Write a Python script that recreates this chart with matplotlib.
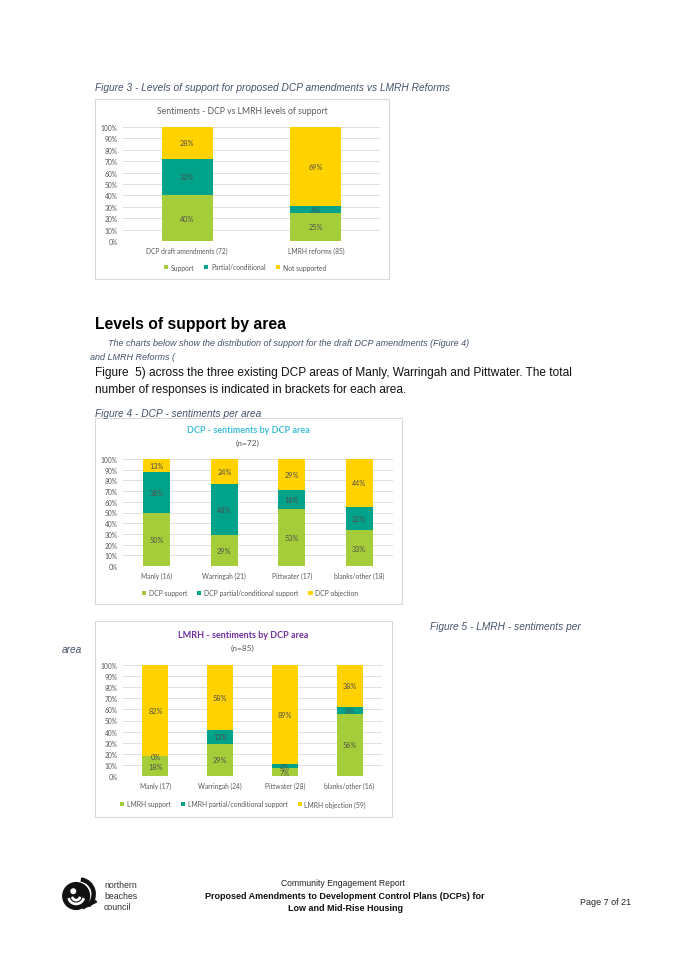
import matplotlib.pyplot as plt
from matplotlib.patches import Rectangle, Circle, Wedge
import numpy as np

W, H = 675, 954

GREEN = '#a5cd39'
TEAL = '#00a38a'
YELLOW = '#ffd200'
GRID = '#d9d9d9'
TXT = '#595959'
CAPTION = '#44546a'
CHART_FONT = 'Lato'
DOC_FONT = 'Liberation Sans'

# Figure 3 - overall levels of support (response counts)
overall_cats = ['DCP draft amendments (72)', 'LMRH reforms (85)']
overall_support = [29, 21]
overall_partial = [23, 5]
overall_against = [20, 59]
overall_legend = ['Support', 'Partial/conditional', 'Not supported']

# Figure 4 - DCP by area
dcp_cats = ['Manly (16)', 'Warringah (21)', 'Pittwater (17)', 'blanks/other (18)']
dcp_support = [8, 6, 9, 6]
dcp_partial = [6, 10, 3, 4]
dcp_against = [2, 5, 5, 8]
dcp_legend = ['DCP support', 'DCP partial/conditional support', 'DCP objection']

# Figure 5 - LMRH by area
lmrh_cats = ['Manly (17)', 'Warringah (24)', 'Pittwater (28)', 'blanks/other (16)']
lmrh_support = [3, 7, 2, 9]
lmrh_partial = [0, 3, 1, 1]
lmrh_against = [14, 14, 25, 6]
lmrh_legend = ['LMRH support', 'LMRH partial/conditional support', 'LMRH objection (59)']


fig = plt.figure(figsize=(W / 100, H / 100), dpi=100)


def fx(x):
    return x / W


def fy(y):
    return 1 - y / H


def axes_px(x0, y0, x1, y1):
    a = fig.add_axes([fx(x0), fy(y1), (x1 - x0) / W, (y1 - y0) / H])
    a.patch.set_alpha(0)
    a.set_zorder(2)
    return a


def box(x0, y0, x1, y1):
    fig.patches.append(Rectangle((fx(x0), fy(y1)), (x1 - x0) / W, (y1 - y0) / H,
                                 transform=fig.transFigure, facecolor='white',
                                 edgecolor=GRID, lw=0.8, zorder=-5))


def doc_text(x, y, s, size=8, **kw):
    kw.setdefault('family', DOC_FONT)
    kw.setdefault('va', 'center')
    fig.text(fx(x), fy(y), s, fontsize=size, **kw)


def stacked(ax, cats, series, labels, legend_y, legend_x):
    x = np.arange(len(cats))
    totals = np.sum(series, axis=0)
    bottom = np.zeros(len(cats))
    handles = []
    for s, c, lab in zip(series, [GREEN, TEAL, YELLOW], labels):
        p = np.array(s) / totals * 100
        h = ax.bar(x, p, 0.4, bottom=bottom, color=c, label=lab, zorder=2)
        handles.append(h)
        for xi, b, v in zip(x, bottom, p):
            ax.text(xi, b + v / 2, f'{int(v + 0.5)}%', ha='center', va='center',
                    fontsize=5.2, color='#505050', family=CHART_FONT, zorder=3)
        bottom += p
    ax.set_xlim(-0.5, len(cats) - 0.5)
    ax.set_ylim(0, 100)
    ax.set_yticks(range(0, 101, 10))
    ax.set_yticklabels([f'{v}%' for v in range(0, 101, 10)])
    ax.set_xticks(x)
    ax.set_xticklabels(cats)
    for sp in ax.spines.values():
        sp.set_visible(False)
    ax.grid(axis='y', color=GRID, lw=0.6, zorder=0)
    ax.set_axisbelow(True)
    ax.tick_params(length=0, labelsize=4.8, labelcolor=TXT, pad=4)
    for t in ax.get_xticklabels() + ax.get_yticklabels():
        t.set_family(CHART_FONT)
    fig.legend(handles=handles, loc='center', ncol=3, frameon=False,
               bbox_to_anchor=(fx(legend_x), fy(legend_y)),
               prop={'family': CHART_FONT, 'size': 4.9}, labelcolor=TXT,
               handlelength=0.6, handleheight=0.6, handletextpad=0.4,
               columnspacing=1.5)


# ---- Figure 3 ----
doc_text(95, 88, 'Figure 3 - Levels of support for proposed DCP amendments vs LMRH Reforms',
         size=7.3, style='italic', color=CAPTION)
box(95, 100, 389, 280)
fig.text(fx(242), fy(112), 'Sentiments - DCP vs LMRH levels of support', ha='center',
         va='center', fontsize=6.2, color=TXT, family=CHART_FONT)
ax1 = axes_px(123, 128, 380, 242)
stacked(ax1, overall_cats, [overall_support, overall_partial, overall_against],
        overall_legend, 268, 245)

# ---- Body text ----
doc_text(95, 325, 'Levels of support by area', size=11.3, weight='bold')
doc_text(108, 344, 'The charts below show the distribution of support for the draft DCP amendments (Figure 4)',
         size=6.5, style='italic', color=CAPTION)
doc_text(90, 358, 'and LMRH Reforms (', size=6.5, style='italic', color=CAPTION)
doc_text(95, 373, 'Figure  5) across the three existing DCP areas of Manly, Warringah and Pittwater. The total',
         size=8.6, color='#111111')
doc_text(95, 390, 'number of responses is indicated in brackets for each area.', size=8.6, color='#111111')

# ---- Figure 4 ----
doc_text(95, 414, 'Figure 4 - DCP - sentiments per area', size=7.3, style='italic', color=CAPTION)
box(95, 419, 402, 605)
fig.text(fx(248), fy(431), 'DCP - sentiments by DCP area', ha='center', va='center',
         fontsize=6.5, weight='bold', color='#3fbfd8', family=CHART_FONT)
fig.text(fx(248), fy(443), '(n=72)', ha='center', va='center', fontsize=6,
         color=TXT, family=CHART_FONT)
ax2 = axes_px(123, 460, 393, 567)
stacked(ax2, dcp_cats, [dcp_support, dcp_partial, dcp_against], dcp_legend, 594, 250)

# ---- Figure 5 ----
doc_text(430, 627, 'Figure 5 - LMRH - sentiments per', size=7.3, style='italic', color=CAPTION)
doc_text(62, 650, 'area', size=7.3, style='italic', color=CAPTION)
box(95, 622, 392, 818)
fig.text(fx(243), fy(635), 'LMRH - sentiments by DCP area', ha='center', va='center',
         fontsize=6.5, weight='bold', color='#7030a0', family=CHART_FONT)
fig.text(fx(243), fy(648), '(n=85)', ha='center', va='center', fontsize=6,
         color=TXT, family=CHART_FONT)
ax3 = axes_px(123, 666, 382, 777)
stacked(ax3, lmrh_cats, [lmrh_support, lmrh_partial, lmrh_against], lmrh_legend, 805, 243)

# ---- Footer ----
logo = axes_px(58, 876, 100, 918)
logo.set_xlim(-1.1, 1.1)
logo.set_ylim(-1.1, 1.1)
logo.set_aspect('equal')
logo.axis('off')
logo.add_patch(Circle((-0.15, 0.0), 0.7, color='#111111'))
logo.add_patch(Wedge((0.0, 0.1), 0.85, -50, 80, width=0.16, color='#111111'))
for r in (0.25, 0.45):
    logo.add_patch(Wedge((-0.15, 0.0), r, 200, 340, width=0.07, color='white'))
logo.add_patch(Circle((-0.3, 0.25), 0.12, color='white'))
logo.plot([0.25, 0.85], [-0.6, -0.3], color='#111111', lw=2.2)

for i, s in enumerate(['northern', 'beaches', 'council']):
    doc_text(104, 886 + i * 11, s, size=6.3, color='#333333')

fig.text(fx(343), fy(884), 'Community Engagement Report', ha='center', va='center',
         fontsize=6.2, color='#222222', family=DOC_FONT)
fig.text(fx(345), fy(897), 'Proposed Amendments to Development Control Plans (DCPs) for',
         ha='center', va='center', fontsize=6.5, weight='bold', color='#111111', family=DOC_FONT)
fig.text(fx(345), fy(909), 'Low and Mid-Rise Housing', ha='center', va='center',
         fontsize=6.5, weight='bold', color='#111111', family=DOC_FONT)
fig.text(fx(606), fy(903), 'Page 7 of 21', ha='center', va='center', fontsize=6.5,
         color='#222222', family=DOC_FONT)

fig.savefig('out.png', dpi=100)
